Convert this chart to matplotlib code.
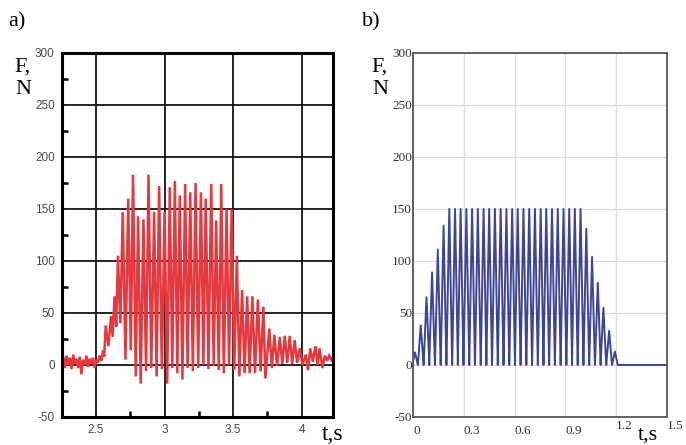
import matplotlib.pyplot as plt
from matplotlib.ticker import MultipleLocator
from matplotlib.transforms import ScaledTranslation

plt.rcParams['axes.unicode_minus'] = False

# panel a) measured force, polyline vertices read off the picture
ta = [2.250, 2.262, 2.274, 2.286, 2.298, 2.310, 2.322, 2.334, 2.346, 2.358,
      2.370, 2.382, 2.394, 2.406, 2.418, 2.430, 2.442, 2.454, 2.466, 2.478,
      2.490, 2.502, 2.514, 2.526, 2.540, 2.552, 2.560, 2.571, 2.590, 2.610,
      2.622, 2.635, 2.648, 2.660, 2.678, 2.695, 2.715, 2.735, 2.754, 2.770,
      2.790, 2.807, 2.826, 2.846, 2.865, 2.883, 2.903, 2.924, 2.942, 2.960,
      2.980, 3.000, 3.019, 3.038, 3.056, 3.075, 3.093, 3.111, 3.130, 3.150,
      3.168, 3.187, 3.206, 3.226, 3.245, 3.265, 3.283, 3.300, 3.320, 3.340,
      3.358, 3.376, 3.395, 3.413, 3.432, 3.452, 3.470, 3.489, 3.508, 3.527,
      3.545, 3.565, 3.583, 3.602, 3.620, 3.640, 3.659, 3.680, 3.700, 3.720,
      3.735, 3.763, 3.782, 3.800, 3.820, 3.840, 3.858, 3.876, 3.894, 3.912,
      3.930, 3.948, 3.966, 3.985, 4.005, 4.030, 4.045, 4.062, 4.080, 4.100,
      4.115, 4.130, 4.150, 4.168, 4.185, 4.200, 4.215, 4.230]
fa = [0, 8, -3, 9, 0, 7, -4, 10, 1, 6,
      -3, 8, -9, 5, 0, 9, -2, 6, 1, 7,
      -3, 5, 2, 9, 4, 14, 8, 38, 18, 47,
      27, 66, 37, 105, 40, 147, 5, 160, 14, 183,
      -11, 143, -18, 140, -6, 183, -3, 147, -11, 172,
      -4, 147, -18, 171, -3, 177, -8, 163, -14, 174,
      -3, 166, -6, 175, -3, 166, 0, 160, -4, 174,
      -1, 139, -5, 174, -8, 150, 0, 150, -5, 105,
      -11, 72, -8, 66, -8, 66, -8, 63, -6, 56,
      -13, 35, -3, 29, -1, 27, 1, 28, 2, 28,
      1, 24, 2, 16, 0, 10, -5, 16, 3, 18,
      0, 16, -3, 9, 4, 9, 5, 8]

# panel b) simulated force, one spike per cycle
tb_peak = [0.010, 0.044, 0.078, 0.111, 0.145, 0.179, 0.213, 0.247, 0.280,
           0.314, 0.348, 0.382, 0.416, 0.449, 0.483, 0.517, 0.551, 0.585,
           0.618, 0.652, 0.686, 0.720, 0.754, 0.787, 0.821, 0.855, 0.889,
           0.923, 0.956, 0.990, 1.024, 1.058, 1.092, 1.125, 1.159, 1.193]
fb_peak = [12, 38, 65, 89, 111, 134,
           150, 150, 150, 150, 150, 150, 150, 150, 150, 150, 150, 150,
           150, 150, 150, 150, 150, 150, 150, 150, 150, 150, 150, 150,
           131, 104, 79, 55, 33, 13]

yticks = [-50, 0, 50, 100, 150, 200, 250, 300]
xticks_a = [2.5, 3, 3.5, 4]
xlabels_a = ['2.5', '3', '3.5', '4']
xticks_b = [0, 0.3, 0.6, 0.9, 1.2, 1.5]
xlabels_b = ['0', '0.3', '0.6', '0.9', '1.2', '1.5']

serif = 'Liberation Serif'

fig = plt.figure(figsize=(6.86, 4.45), dpi=100)
ax1 = fig.add_axes([0.0899, 0.063, 0.396, 0.818])
ax2 = fig.add_axes([0.6025, 0.063, 0.3694, 0.818])

# ---- a)
ax1.plot(ta, fa, color='#e3393f', lw=1.8, solid_joinstyle='miter')
ax1.set_xlim(2.25, 4.23)
ax1.set_ylim(-50, 300)
ax1.set_yticks(yticks)
ax1.set_xticks(xticks_a)
ax1.set_xticklabels(xlabels_a)
ax1.yaxis.set_minor_locator(MultipleLocator(25))
ax1.xaxis.set_minor_locator(MultipleLocator(0.25))
ax1.grid(True, which='major', color='black', lw=1.2)
for s in ax1.spines.values():
    s.set_linewidth(2.2)
ax1.tick_params(which='both', direction='in', colors='black', width=1.8,
                labelcolor='#4a4a4a', labelsize=8.5, labelfontfamily='Liberation Sans')
ax1.tick_params(which='major', length=0)
ax1.tick_params(which='minor', length=4)
ax1.tick_params(axis='y', pad=5)
ax1.tick_params(axis='x', pad=5)

# ---- b)
x_b, y_b = [0.0], [0.0]
w = 0.0169
for t, v in zip(tb_peak, fb_peak):
    x_b += [t - w, t, t + w]
    y_b += [0, v, 0]
x_b.append(1.5)
y_b.append(0)
ax2.plot(x_b, y_b, color='#3f4596', lw=1.4)
ax2.set_xlim(0, 1.5)
ax2.set_ylim(-50, 300)
ax2.set_yticks(yticks)
ax2.set_xticks(xticks_b)
ax2.set_xticklabels(xlabels_b, ha='left')
ax2.grid(True, color='#dcdcdc', lw=0.9)
for s in ax2.spines.values():
    s.set_linewidth(1.3)
    s.set_color('#555555')
ax2.tick_params(length=0, labelsize=9.5, labelcolor='#333333', labelfontfamily=serif)
ax2.tick_params(axis='y', pad=1)
ax2.tick_params(axis='x', pad=6)
for lab in ax2.get_xticklabels()[-2:]:
    lab.set_transform(lab.get_transform() + ScaledTranslation(0, 4 / 72, fig.dpi_scale_trans))

# ---- labels
fig.text(8 / 686, 1 - 22 / 445, 'a)', family=serif, fontsize=16, va='center')
fig.text(362 / 686, 1 - 22 / 445, 'b)', family=serif, fontsize=16, va='center')
for x0 in (14, 371):
    fig.text(x0 / 686, 1 - 67 / 445, 'F,', family=serif, fontsize=16, va='center')
    fig.text((x0 + 1) / 686, 1 - 89 / 445, 'N', family=serif, fontsize=16, va='center')
fig.text(322 / 686, 1 - 440 / 445, 't,s', family=serif, fontsize=17, va='baseline')
fig.text(638 / 686, 1 - 440 / 445, 't,s', family=serif, fontsize=16, va='baseline')

fig.savefig('out.png', dpi=100)
